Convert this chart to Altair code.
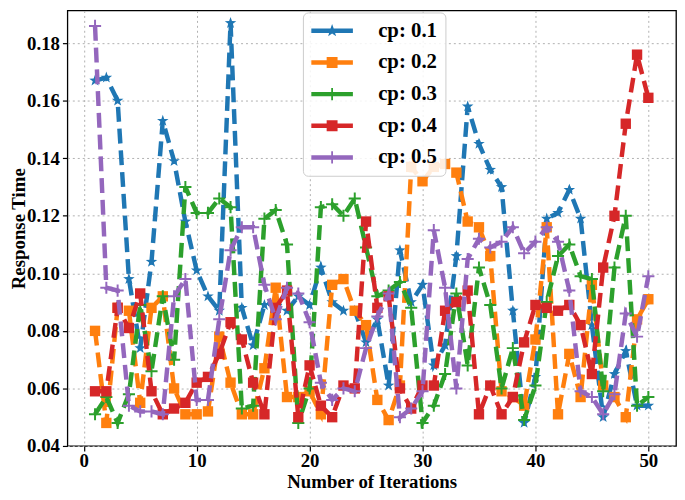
import altair as alt
import pandas as pd

iterations = list(range(1, 51))
series_names = ["cp: 0.1", "cp: 0.2", "cp: 0.3", "cp: 0.4", "cp: 0.5"]
colors = ["#1f77b4", "#ff7f0e", "#2ca02c", "#d62728", "#9467bd"]

cp01 = [0.167, 0.168, 0.160, 0.098, 0.074, 0.104, 0.153, 0.139, 0.118, 0.101,
        0.092, 0.087, 0.187, 0.088, 0.075, 0.089, 0.090, 0.087, 0.092, 0.089,
        0.102, 0.090, 0.087, 0.087, 0.076, 0.084, 0.061, 0.108, 0.090, 0.096,
        0.068, 0.075, 0.106, 0.158, 0.145, 0.136, 0.130, 0.087, 0.048, 0.064,
        0.119, 0.121, 0.129, 0.119, 0.082, 0.050, 0.065, 0.073, 0.054, 0.054]
cp02 = [0.080, 0.048, 0.088, 0.087, 0.055, 0.088, 0.092, 0.060, 0.051, 0.051,
        0.052, 0.078, 0.062, 0.051, 0.051, 0.067, 0.095, 0.057, 0.057, 0.059,
        0.051, 0.096, 0.098, 0.087, 0.082, 0.056, 0.049, 0.061, 0.137, 0.132,
        0.137, 0.138, 0.135, 0.118, 0.116, 0.106, 0.059, 0.057, 0.054, 0.077,
        0.116, 0.051, 0.072, 0.057, 0.096, 0.061, 0.057, 0.050, 0.084, 0.091]
cp03 = [0.051, 0.057, 0.048, 0.058, 0.089, 0.066, 0.092, 0.070, 0.130, 0.121,
        0.121, 0.126, 0.123, 0.053, 0.054, 0.119, 0.122, 0.110, 0.048, 0.060,
        0.123, 0.124, 0.120, 0.126, 0.109, 0.092, 0.094, 0.097, 0.088, 0.048,
        0.054, 0.065, 0.093, 0.068, 0.102, 0.089, 0.060, 0.074, 0.049, 0.061,
        0.090, 0.106, 0.110, 0.099, 0.098, 0.059, 0.102, 0.120, 0.054, 0.057]
cp04 = [0.059, 0.059, 0.088, 0.081, 0.093, 0.059, 0.051, 0.053, 0.055, 0.062,
        0.064, 0.072, 0.083, 0.077, 0.062, 0.051, 0.088, 0.094, 0.050, 0.068,
        0.054, 0.050, 0.061, 0.060, 0.118, 0.088, 0.092, 0.060, 0.053, 0.061,
        0.061, 0.087, 0.090, 0.094, 0.051, 0.061, 0.051, 0.057, 0.076, 0.089,
        0.088, 0.087, 0.089, 0.082, 0.065, 0.102, 0.120, 0.152, 0.176, 0.161]
cp05 = [0.186, 0.095, 0.094, 0.054, 0.052, 0.052, 0.051, 0.092, 0.098, 0.056,
        0.056, 0.084, 0.108, 0.116, 0.116, 0.096, 0.084, 0.095, 0.093, 0.083,
        0.062, 0.056, 0.060, 0.059, 0.074, 0.085, 0.093, 0.050, 0.053, 0.059,
        0.115, 0.095, 0.060, 0.105, 0.112, 0.109, 0.111, 0.116, 0.107, 0.111,
        0.116, 0.111, 0.094, 0.059, 0.057, 0.051, 0.058, 0.086, 0.078, 0.099]
all_values = [cp01, cp02, cp03, cp04, cp05]

x_ticks = [0, 10, 20, 30, 40, 50]
y_ticks = [0.04, 0.06, 0.08, 0.10, 0.12, 0.14, 0.16, 0.18]

FONT = "Liberation Serif"

STAR = ("M0,-1L0.235,-0.324L0.951,-0.309L0.38,0.124L0.588,0.809L0,0.4"
        "L-0.588,0.809L-0.38,0.124L-0.951,-0.309L-0.235,-0.324Z")
PLUS = "M-1,0L1,0M0,-1L0,1"


def scaled_star(s):
    pts = [(0, -1), (0.235, -0.324), (0.951, -0.309), (0.38, 0.124), (0.588, 0.809),
           (0, 0.4), (-0.588, 0.809), (-0.38, 0.124), (-0.951, -0.309), (-0.235, -0.324)]
    return "M" + "L".join(f"{x*s:.3f},{y*s:.3f}" for x, y in pts) + "Z"


LINE = "M-2.1,-0.22H2.1V0.22H-2.1Z "
LEG_SQUARE = "M-0.55,-0.55H0.55V0.55H-0.55Z"
LEG_PLUS = "M-0.09,-0.62H0.09V0.62H-0.09Z M-0.62,-0.09H0.62V0.09H-0.62Z"
legend_paths = [LINE + scaled_star(0.68), LINE + LEG_SQUARE, LINE + LEG_PLUS,
                LINE + LEG_SQUARE, LINE + LEG_PLUS]

marker_styles = [
    dict(shape=STAR, filled=True, size=150),
    dict(shape="square", filled=True, size=110),
    dict(shape=PLUS, filled=False, size=150, strokeWidth=2),
    dict(shape="square", filled=True, size=110),
    dict(shape=PLUS, filled=False, size=150, strokeWidth=2),
]

xscale = alt.Scale(domain=[-1.45, 52.45], nice=False, zero=False)
yscale = alt.Scale(domain=[0.04, 0.19135], nice=False, zero=False)

x_axis = alt.Axis(values=x_ticks, title="Number of Iterations", format="d",
                  labelFont=FONT, labelFontSize=19, labelFontWeight="bold", labelColor="black",
                  titleFont=FONT, titleFontSize=19, titleFontWeight="bold", titleColor="black",
                  titleY=42, titleBaseline="alphabetic",
                  tickColor="black", tickSize=5, tickWidth=1.2, labelPadding=1,
                  domain=False, grid=True, gridColor="#b0b0b0", gridDash=[2, 3], gridWidth=1)
y_axis = alt.Axis(values=y_ticks, title="Response Time", format=".2f",
                  labelFont=FONT, labelFontSize=19, labelFontWeight="bold", labelColor="black",
                  titleFont=FONT, titleFontSize=19, titleFontWeight="bold", titleColor="black",
                  titleX=-43, titleY=220, titleAngle=270, titleBaseline="alphabetic",
                  tickColor="black", tickSize=5, tickWidth=1.2, labelPadding=3,
                  domain=False, grid=True, gridColor="#b0b0b0", gridDash=[2, 3], gridWidth=1)

layers = []
for i, (name, vals) in enumerate(zip(series_names, all_values)):
    df = pd.DataFrame({"iteration": iterations, "value": vals, "series": name})
    base = alt.Chart(df)
    enc = dict(x=alt.X("iteration:Q", scale=xscale, axis=x_axis),
               y=alt.Y("value:Q", scale=yscale, axis=y_axis))
    line = base.mark_line(color=colors[i], strokeWidth=4.5, strokeDash=[15, 7],
                          opacity=1).encode(**enc)
    ms = marker_styles[i]
    pkw = dict(shape=ms["shape"], filled=ms["filled"], size=ms["size"], color=colors[i],
               opacity=1)
    if "strokeWidth" in ms:
        pkw["strokeWidth"] = ms["strokeWidth"]
    pts = base.mark_point(**pkw).encode(**enc)
    layers += [line, pts]

legend_spec = alt.Legend(orient="none", legendX=238, legendY=2, title=None,
                         labelFont=FONT, labelFontSize=21, labelFontWeight="bold",
                         labelColor="black", symbolSize=400, symbolStrokeWidth=0,
                         symbolOffset=11, labelOffset=36, rowPadding=10, padding=8,
                         fillColor="rgba(255,255,255,0.85)", strokeColor="#cccccc",
                         cornerRadius=5, symbolOpacity=1)

legend_df = pd.DataFrame({"series": series_names})
legend_layer = alt.Chart(legend_df).mark_point(filled=True, opacity=1).encode(
    color=alt.Color("series:N", scale=alt.Scale(domain=series_names, range=colors),
                    legend=legend_spec),
    shape=alt.Shape("series:N", scale=alt.Scale(domain=series_names, range=legend_paths),
                    legend=legend_spec),
).transform_filter("false")

chart = alt.layer(*layers, legend_layer).properties(
    width=615, height=440,
    autosize=alt.AutoSizeParams(type="none"),
    padding={"left": 60, "top": 0, "right": 1, "bottom": 44},
).configure_view(stroke="black", strokeWidth=1.3)

chart.save("out.html", embed_options={"renderer": "svg", "actions": False})
